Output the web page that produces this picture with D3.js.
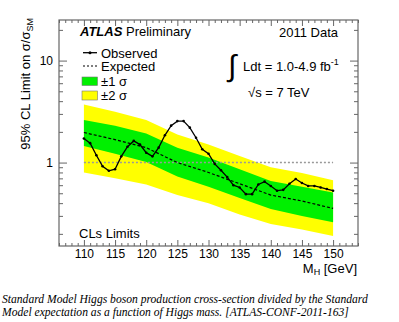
<!DOCTYPE html>
<html>
<head>
<meta charset="utf-8">
<script src="https://cdn.jsdelivr.net/npm/d3@7"></script>
<style>
  body { margin: 0; background: white; }
  text { font-family: "Liberation Sans", Arial, sans-serif; fill: black; }
  .caption { font-family: "Liberation Serif", "Times New Roman", serif; font-style: italic; }
</style>
</head>
<body>
<svg id="chart" width="399" height="322"></svg>
<script>
// band / expected values
const bandMass = [110, 115, 120, 125, 130, 135, 140, 145, 150];
const expected = [1.97, 1.68, 1.40, 1.00, 0.80, 0.62, 0.48, 0.42, 0.355];
const plus1 = [2.62, 2.30, 1.93, 1.40, 1.12, 0.86, 0.66, 0.58, 0.51];
const minus1 = [1.45, 1.22, 1.01, 0.73, 0.58, 0.45, 0.35, 0.30, 0.26];
const plus2 = [3.70, 3.15, 2.62, 1.88, 1.50, 1.16, 0.90, 0.79, 0.67];
const minus2 = [0.80, 0.70, 0.61, 0.48, 0.40, 0.31, 0.25, 0.22, 0.19];

// observed limit
const obsMass = [110, 111, 112, 113, 114, 115, 116, 117, 118, 119, 120, 121, 122, 123, 124, 125,
                 126, 127, 128, 129, 130, 131, 132, 133, 134, 135, 136, 137, 138, 139, 140,
                 141, 142, 143, 144, 145, 146, 147, 148, 149, 150];
const observed = [1.72, 1.55, 1.18, 0.92, 0.83, 0.86, 1.15, 1.43, 1.63, 1.50, 1.25, 1.15, 1.40, 1.85, 2.30, 2.55,
                  2.55, 2.20, 1.75, 1.35, 1.22, 0.97, 0.84, 0.72, 0.60, 0.57, 0.49, 0.49, 0.61, 0.65, 0.59,
                  0.53, 0.54, 0.62, 0.69, 0.63, 0.59, 0.59, 0.57, 0.55, 0.53];

const xTicks = [110, 115, 120, 125, 130, 135, 140, 145, 150];
const yTicks = [1, 10];

const svg = d3.select('#chart');
const frame = { left: 59, right: 358, top: 20, bottom: 246 };

const x = d3.scaleLinear().domain([106, 154]).range([frame.left, frame.right]);
const y = d3.scaleLog().domain([0.152, 25]).range([frame.bottom, frame.top]);

const bandData = bandMass.map((m, i) => ({ m, e: expected[i], p1: plus1[i], m1: minus1[i], p2: plus2[i], m2: minus2[i] }));

// bands
svg.append('path')
    .datum(bandData)
    .attr('fill', '#ffff00')
    .attr('d', d3.area().x(d => x(d.m)).y0(d => y(d.m2)).y1(d => y(d.p2)));
svg.append('path')
    .datum(bandData)
    .attr('fill', '#00f000')
    .attr('d', d3.area().x(d => x(d.m)).y0(d => y(d.m1)).y1(d => y(d.p1)));

// SM = 1 line
svg.append('line')
    .attr('x1', x(110)).attr('x2', x(150))
    .attr('y1', y(1)).attr('y2', y(1))
    .attr('stroke', '#999')
    .attr('stroke-width', 1.5)
    .attr('stroke-dasharray', '2,2');

// expected
svg.append('path')
    .datum(bandData)
    .attr('fill', 'none')
    .attr('stroke', 'black')
    .attr('stroke-width', 1.2)
    .attr('stroke-dasharray', '3,2')
    .attr('d', d3.line().x(d => x(d.m)).y(d => y(d.e)));

// observed
const obsData = obsMass.map((m, i) => ({ m, v: observed[i] }));
svg.append('path')
    .datum(obsData)
    .attr('fill', 'none')
    .attr('stroke', 'black')
    .attr('stroke-width', 1.3)
    .attr('d', d3.line().x(d => x(d.m)).y(d => y(d.v)));
svg.selectAll('.obs')
    .data(obsData)
    .enter().append('circle')
    .attr('cx', d => x(d.m))
    .attr('cy', d => y(d.v))
    .attr('r', 1.3)
    .attr('fill', 'black');

// frame + ticks (ROOT style, inward on all sides)
const axisColor = '#666';
const minorX = d3.range(106, 155, 1).filter(v => v % 5 !== 0);
const majorX = d3.range(110, 155, 5);
const minorY = [0.2, 0.3, 0.4, 0.5, 0.6, 0.7, 0.8, 0.9, 2, 3, 4, 5, 6, 7, 8, 9, 20];

function tickGroup(axis, transform) {
    const g = svg.append('g').attr('transform', transform).call(axis);
    g.select('.domain').remove();
    g.selectAll('line').attr('stroke', axisColor);
    return g;
}

tickGroup(d3.axisBottom(x).tickValues(minorX).tickSize(-3).tickFormat(''), `translate(0,${frame.bottom})`);
const bx = tickGroup(d3.axisBottom(x).tickValues(xTicks).tickSize(-6).tickPadding(3), `translate(0,${frame.bottom})`);
bx.selectAll('text').attr('font-size', 12).attr('font-family', 'Liberation Sans, Arial, sans-serif');
tickGroup(d3.axisTop(x).tickValues(minorX).tickSize(-3).tickFormat(''), `translate(0,${frame.top})`);
tickGroup(d3.axisTop(x).tickValues(majorX).tickSize(-6).tickFormat(''), `translate(0,${frame.top})`);

tickGroup(d3.axisLeft(y).tickValues(minorY).tickSize(-4).tickFormat(''), `translate(${frame.left},0)`);
const ly = tickGroup(d3.axisLeft(y).tickValues(yTicks).tickSize(-8).tickPadding(6).tickFormat(d3.format('d')), `translate(${frame.left},0)`);
ly.selectAll('text').attr('font-size', 12).attr('font-family', 'Liberation Sans, Arial, sans-serif');
tickGroup(d3.axisRight(y).tickValues(minorY).tickSize(-4).tickFormat(''), `translate(${frame.right},0)`);
tickGroup(d3.axisRight(y).tickValues(yTicks).tickSize(-8).tickFormat(''), `translate(${frame.right},0)`);

svg.append('rect')
    .attr('x', frame.left).attr('y', frame.top)
    .attr('width', frame.right - frame.left).attr('height', frame.bottom - frame.top)
    .attr('fill', 'none')
    .attr('stroke', axisColor)
    .attr('stroke-width', 1.2);

// axis titles
svg.append('text')
    .attr('transform', `translate(30,18) rotate(-90)`)
    .attr('text-anchor', 'end')
    .attr('font-size', 13)
    .html('95% CL Limit on σ/σ<tspan font-size="9" dy="3">SM</tspan>');

svg.append('text')
    .attr('x', 357).attr('y', 272.5)
    .attr('text-anchor', 'end')
    .attr('font-size', 13)
    .html('M<tspan font-size="9" dy="2.5">H</tspan><tspan dy="-2.5"> [GeV]</tspan>');

// labels inside frame
svg.append('text')
    .attr('x', 80).attr('y', 36)
    .attr('font-size', 13)
    .html('<tspan font-weight="bold" font-style="italic">ATLAS</tspan> Preliminary');
svg.append('text')
    .attr('x', 338).attr('y', 36.5)
    .attr('text-anchor', 'end')
    .attr('font-size', 13)
    .text('2011 Data');
svg.append('text')
    .attr('x', 228).attr('y', 76)
    .attr('font-size', 30)
    .attr('font-family', 'DejaVu Sans')
    .text('∫');
svg.append('text')
    .attr('x', 243).attr('y', 70.5)
    .attr('font-size', 13)
    .html('Ldt = 1.0-4.9 fb<tspan font-size="9" dy="-6">-1</tspan>');
svg.append('text')
    .attr('x', 248).attr('y', 96.5)
    .attr('font-size', 13)
    .text('√s = 7 TeV');
svg.append('text')
    .attr('x', 79).attr('y', 238)
    .attr('font-size', 13)
    .text('CLs Limits');

// legend
const lg = svg.append('g');
lg.append('line').attr('x1', 83).attr('x2', 97).attr('y1', 52.7).attr('y2', 52.7)
    .attr('stroke', 'black').attr('stroke-width', 1.3);
lg.append('circle').attr('cx', 90).attr('cy', 52.7).attr('r', 1.5).attr('fill', 'black');
lg.append('text').attr('x', 101).attr('y', 57.5).attr('font-size', 13).text('Observed');
lg.append('line').attr('x1', 83).attr('x2', 97).attr('y1', 66).attr('y2', 66)
    .attr('stroke', 'black').attr('stroke-width', 1.2).attr('stroke-dasharray', '2,2');
lg.append('text').attr('x', 101).attr('y', 71).attr('font-size', 13).text('Expected');
lg.append('rect').attr('x', 82).attr('y', 77).attr('width', 15.5).attr('height', 8.5)
    .attr('fill', '#00f000').attr('stroke', '#777').attr('stroke-width', 0.6);
lg.append('text').attr('x', 101).attr('y', 86).attr('font-size', 13).text('±1 σ');
lg.append('rect').attr('x', 82).attr('y', 91).attr('width', 15.5).attr('height', 9)
    .attr('fill', '#ffff00').attr('stroke', '#777').attr('stroke-width', 0.6);
lg.append('text').attr('x', 101).attr('y', 100).attr('font-size', 13).text('±2 σ');

// caption
svg.append('text').attr('class', 'caption')
    .attr('x', 2).attr('y', 302.5).attr('font-size', 11.6)
    .text('Standard Model Higgs boson production cross-section divided by the Standard');
svg.append('text').attr('class', 'caption')
    .attr('x', 2).attr('y', 315.5).attr('font-size', 11.6)
    .text('Model expectation as a function of Higgs mass. [ATLAS-CONF-2011-163]');
</script>
</body>
</html>
